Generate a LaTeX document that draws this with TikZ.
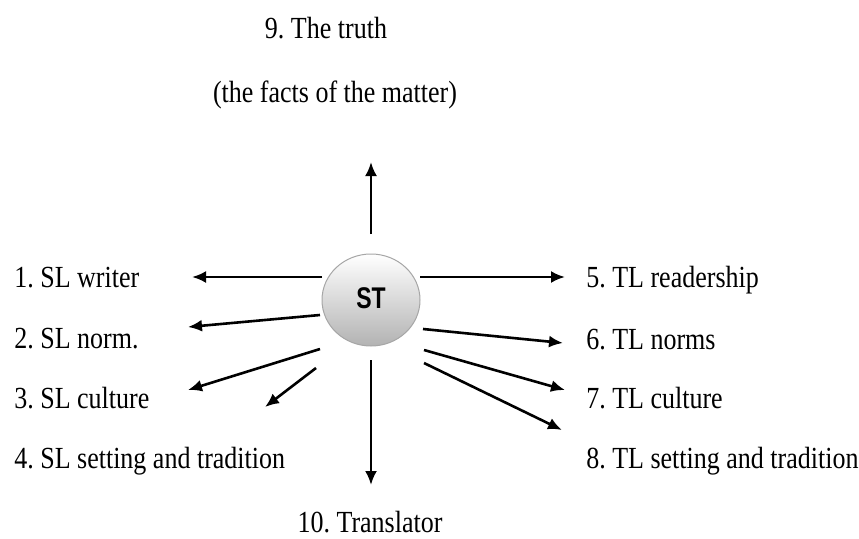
\documentclass[tikz,border=0pt]{standalone}
\usepackage{fontspec}
\setmainfont{Liberation Serif}
\setsansfont{Liberation Sans}
\usetikzlibrary{arrows.meta,shapes.geometric}
\frenchspacing

\begin{document}
\begin{tikzpicture} [x=1pt, y=-1pt, line width=2.6pt,
                    teksti/.style={inner sep=0pt,yscale=1.18,transform shape,
                                   font=\fontsize{26}{30}\selectfont},
                    kula/.style={ellipse,draw=gray!70,line width=1pt,minimum width=98pt,
                                 minimum height=92pt,inner sep=0pt,
                                 top color=white,bottom color=gray!60,
                                 font=\sffamily\bfseries\fontsize{23}{26}\selectfont},
                    nuoli/.style={-{Latex[length=14pt,width=12pt]}}]
\useasboundingbox (0,0) rectangle (859,538);

\node[kula] (st) at (371,300) {\raisebox{4pt}{\scalebox{1}[1.3]{ST}}};

\node[teksti,anchor=base west] (sl1) at (13,287) {1. SL writer};
\node[teksti,anchor=base west] (sl2) at (13,348) {2. SL norm.};
\node[teksti,anchor=base west] (sl3) at (13,408) {3. SL culture};
\node[teksti,anchor=base west] (sl4) at (13,468) {4. SL setting and tradition};
\node[teksti,anchor=base west] (tl5) at (585,287) {5. TL readership};
\node[teksti,anchor=base west] (tl6) at (585,349) {6. TL norms};
\node[teksti,anchor=base west] (tl7) at (585,408) {7. TL culture};
\node[teksti,anchor=base west] (tl8) at (585,468) {8. TL setting and tradition};
\node[teksti,anchor=base] (truth) at (326,38) {9. The truth};
\node[teksti,anchor=base] (facts) at (335,102) {(the facts of the matter)};
\node[teksti,anchor=base] (transl) at (370,532) {10. Translator};

% arrow ends
\coordinate (a0) at (371,234);  \coordinate (b0) at (371,162);
\coordinate (a1) at (322,277);  \coordinate (b1) at (192,277);
\coordinate (a2) at (320,315);  \coordinate (b2) at (188,327);
\coordinate (a3) at (320,349);  \coordinate (b3) at (188,390);
\coordinate (a4) at (316,368);  \coordinate (b4) at (265,407);
\coordinate (a5) at (420,277);  \coordinate (b5) at (565,277);
\coordinate (a6) at (423,329);  \coordinate (b6) at (563,343);
\coordinate (a7) at (424,350);  \coordinate (b7) at (565,390);
\coordinate (a8) at (424,363);  \coordinate (b8) at (562,430);
\coordinate (a9) at (371,360);  \coordinate (b9) at (371,485);

 \path[nuoli]
    (a0) edge (b0)
    (a1) edge (b1)
    (a2) edge (b2)
    (a3) edge (b3)
    (a4) edge (b4)
    (a5) edge (b5)
    (a6) edge (b6)
    (a7) edge (b7)
    (a8) edge (b8)
    (a9) edge (b9);
\end{tikzpicture}
\end{document}
